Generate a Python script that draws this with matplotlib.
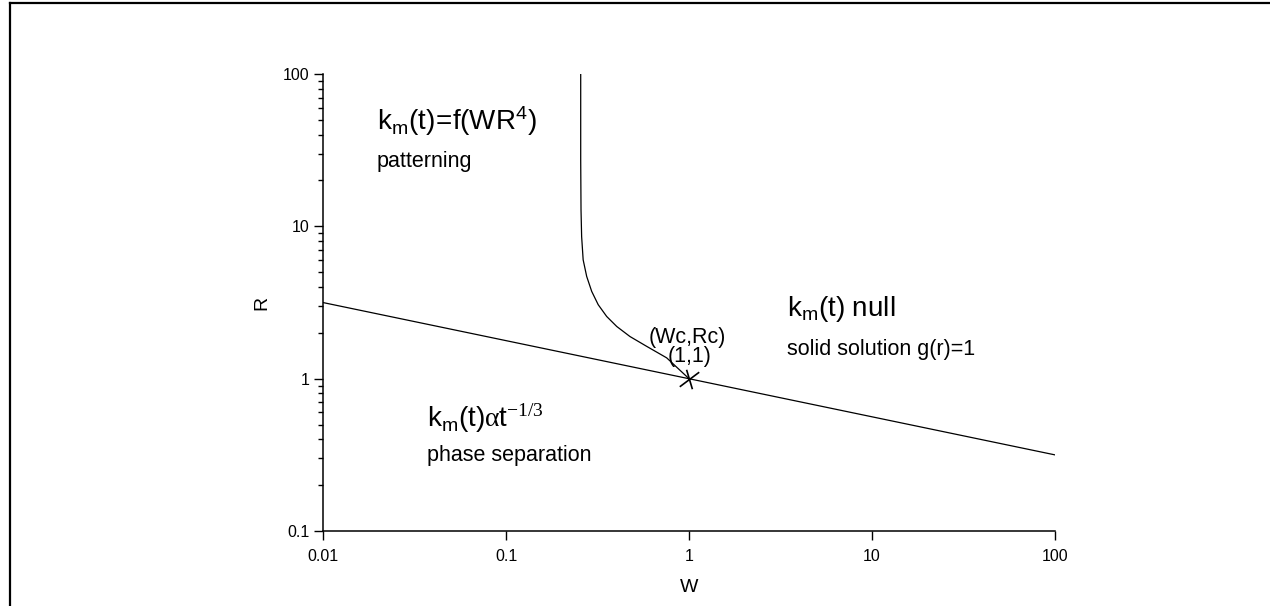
import matplotlib
matplotlib.use('Agg')
import matplotlib.pyplot as plt
from matplotlib.ticker import FixedLocator, FixedFormatter, LogLocator, NullFormatter, NullLocator
from matplotlib.path import Path
from matplotlib.lines import Line2D

plt.rcParams['font.family'] = ['Liberation Sans', 'DejaVu Sans']
plt.rcParams['mathtext.fontset'] = 'custom'
plt.rcParams['mathtext.rm'] = 'Liberation Sans'
plt.rcParams['mathtext.it'] = 'Liberation Sans:italic'
plt.rcParams['mathtext.bf'] = 'Liberation Sans:bold'
plt.rcParams['mathtext.sf'] = 'Liberation Sans'
plt.rcParams['mathtext.tt'] = 'Liberation Serif'

# ---- data ----
x_ticks = [0.01, 0.1, 1, 10, 100]
x_tick_labels = ['0.01', '0.1', '1', '10', '100']
y_ticks = [0.1, 1, 10, 100]
y_tick_labels = ['0.1', '1', '10', '100']

line_W = [0.01, 100]
line_R = [3.16, 0.316]

curve_W = [0.256, 0.256, 0.257, 0.259, 0.264, 0.276, 0.294, 0.319, 0.355,
           0.403, 0.476, 0.587, 0.755, 1.0]
curve_R = [100, 27.3, 12.8, 8.57, 6.03, 4.69, 3.74, 3.06, 2.56,
           2.20, 1.89, 1.63, 1.37, 1.0]

crit_W = [1.0]
crit_R = [1.0]

# ---- figure ----
W_px, H_px = 1270, 606
fig = plt.figure(figsize=(W_px / 100, H_px / 100), dpi=100)
left, right, top, bottom = 323, 1055, 74, 531
ax = fig.add_axes([left / W_px, 1 - bottom / H_px, (right - left) / W_px, (bottom - top) / H_px])

ax.set_xscale('log')
ax.set_yscale('log')
ax.set_xlim(0.01, 100)
ax.set_ylim(0.1, 100)

ax.plot(line_W, line_R, color='black', lw=0.9)
ax.plot(curve_W, curve_R, color='black', lw=0.9)

cross = Path([(-0.3, 1.0), (0.3, -1.0), (-1.0, -0.75), (1.0, 0.75)],
             [Path.MOVETO, Path.LINETO, Path.MOVETO, Path.LINETO])
ax.plot(crit_W, crit_R, linestyle='none', marker=cross, markersize=14,
        markeredgecolor='black', markerfacecolor='none', markeredgewidth=1.2)

for s in ['top', 'right']:
    ax.spines[s].set_visible(False)
for s in ['left', 'bottom']:
    ax.spines[s].set_linewidth(1.1)

ax.xaxis.set_major_locator(FixedLocator(x_ticks))
ax.xaxis.set_major_formatter(FixedFormatter(x_tick_labels))
ax.xaxis.set_minor_locator(NullLocator())
ax.yaxis.set_major_locator(FixedLocator(y_ticks))
ax.yaxis.set_major_formatter(FixedFormatter(y_tick_labels))
ax.yaxis.set_minor_locator(LogLocator(base=10, subs=[2, 3, 4, 5, 6, 7, 8, 9]))
ax.yaxis.set_minor_formatter(NullFormatter())

ax.tick_params(which='major', direction='out', length=6.5, width=1.0, labelsize=11.5)
ax.tick_params(which='minor', direction='out', length=3.6, width=1.0)
ax.tick_params(axis='x', which='major', pad=6.5)
ax.tick_params(axis='y', which='major', pad=3)

ax.set_xlabel('W', fontsize=14, labelpad=11)
ax.set_ylabel('R', fontsize=14, labelpad=9)

# ---- annotations ----
big = 20
small = 15.5
ax.text(0.0197, 42.9, r'$\mathregular{k_m(t)\!=\!f(WR^4)}$', fontsize=big, ha='left', va='baseline')
ax.text(0.0197, 24.5, 'patterning', fontsize=small, ha='left', va='baseline')
ax.text(0.037, 0.485, r'$\mathregular{k_m(t)}\mathtt{\alpha}\mathregular{t}^{\mathtt{-1/3}}$',
        fontsize=big, ha='left', va='baseline')
ax.text(0.037, 0.286, 'phase separation', fontsize=small, ha='left', va='baseline')
ax.text(0.975, 1.72, '(Wc,Rc)', fontsize=small, ha='center', va='baseline')
ax.text(1.01, 1.29, '(1,1)', fontsize=small, ha='center', va='baseline')
ax.text(3.43, 2.59, r'$\mathregular{k_m(t)}$ null', fontsize=big, ha='left', va='baseline')
ax.text(3.43, 1.44, 'solid solution g(r)=1', fontsize=small, ha='left', va='baseline')

# ---- figure frame (top and left edges visible) ----
fig.add_artist(Line2D([10 / W_px, 10 / W_px], [0, 1 - 3 / H_px], transform=fig.transFigure,
                      color='black', lw=1.6))
fig.add_artist(Line2D([10 / W_px, 1], [1 - 3 / H_px, 1 - 3 / H_px], transform=fig.transFigure,
                      color='black', lw=1.6))

fig.savefig('out.png', dpi=100)
